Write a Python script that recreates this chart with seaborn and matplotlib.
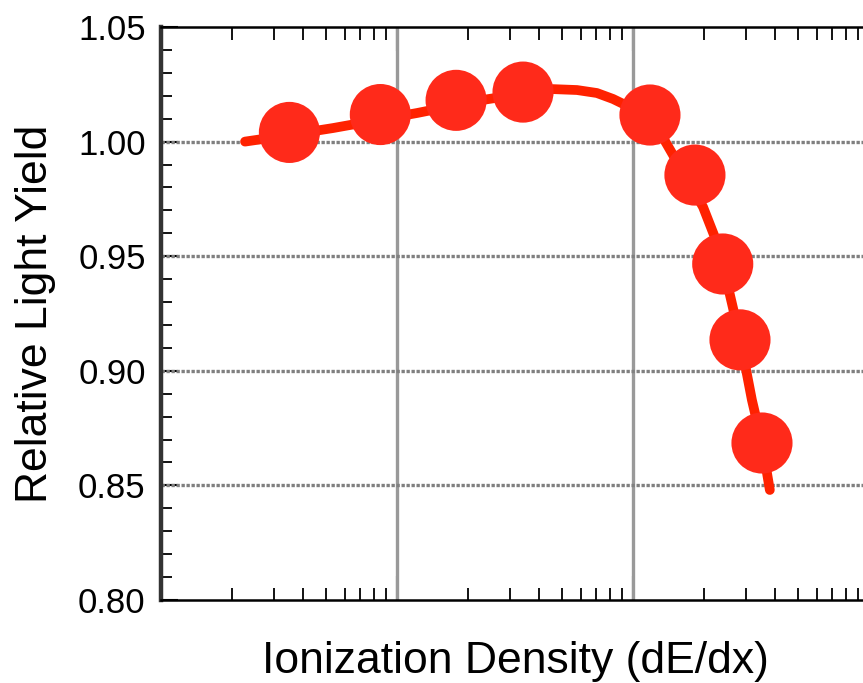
import matplotlib
matplotlib.use("Agg")
import matplotlib.pyplot as plt
from matplotlib.ticker import LogLocator, MultipleLocator, NullFormatter, FormatStrFormatter
import seaborn as sns
import pandas as pd

# Measured light yield vs. ionization density
density = [3.5, 8.5, 17.8, 34.2, 118, 183, 240, 284, 352]
light_yield = [1.004, 1.0118, 1.018, 1.0216, 1.0116, 0.9854, 0.9466, 0.9135, 0.8685]

# Smooth model curve through the measurements
fit_density = [2.27, 2.9, 5.35, 12.2, 22.5, 45.8, 57.9, 70.3, 82.3, 97.1, 118,
               198, 222, 240, 284, 319, 352, 380]
fit_yield = [1.000, 1.0016, 1.0059, 1.0125, 1.018, 1.0229, 1.0225, 1.0212, 1.0186, 1.0150, 1.0116,
             0.9715, 0.9584, 0.9466, 0.9143, 0.8873, 0.8685, 0.848]

y_ticks = [0.80, 0.85, 0.90, 0.95, 1.00, 1.05]

sns.set_style("ticks")
plt.rcParams["font.family"] = ["Liberation Sans", "DejaVu Sans"]
plt.rcParams["text.color"] = "black"
plt.rcParams["axes.labelcolor"] = "black"
plt.rcParams["xtick.color"] = "black"
plt.rcParams["ytick.color"] = "black"

fig = plt.figure(figsize=(8.63, 6.83), dpi=100)
ax = fig.add_axes([161 / 863, 83 / 683, (869 - 161) / 863, 573 / 683])

red = "#ff2a1a"
fit_df = pd.DataFrame({"x": fit_density, "y": fit_yield})
pts_df = pd.DataFrame({"x": density, "y": light_yield})

sns.lineplot(data=fit_df, x="x", y="y", ax=ax, color="#ff2200", linewidth=7,
             sort=False, solid_capstyle="round", solid_joinstyle="round", zorder=3)
sns.scatterplot(data=pts_df, x="x", y="y", ax=ax, color=red, s=44 ** 2,
                edgecolor="none", linewidth=0, zorder=4)

ax.set_xscale("log")
ax.set_xlim(1, 1000)
ax.set_ylim(0.80, 1.05)

# Grid: solid verticals at decades, dotted horizontals at labelled values
for xv in [10, 100]:
    ax.axvline(xv, color="#999999", linewidth=2.4, zorder=1)
for yv in [0.85, 0.90, 0.95, 1.00]:
    ax.axhline(yv, color="#808080", linewidth=2.4, linestyle=(0, (1.0, 0.5)), zorder=1)

ax.xaxis.set_major_locator(LogLocator(base=10, numticks=10))
ax.xaxis.set_minor_locator(LogLocator(base=10, subs=range(2, 10), numticks=20))
ax.xaxis.set_major_formatter(NullFormatter())
ax.xaxis.set_minor_formatter(NullFormatter())
ax.set_yticks(y_ticks)
ax.yaxis.set_major_formatter(FormatStrFormatter("%.2f"))
ax.yaxis.set_minor_locator(MultipleLocator(0.01))

ax.tick_params(axis="both", which="both", direction="in")
ax.tick_params(axis="x", which="both", top=True, bottom=True)
ax.tick_params(axis="x", which="major", length=17, width=1.5)
ax.tick_params(axis="x", which="minor", length=9, width=1.3)
ax.tick_params(axis="y", which="major", length=12, width=1.5, labelsize=25, pad=11)
ax.tick_params(axis="y", which="minor", length=8, width=1.3)

for side in ["top", "bottom"]:
    ax.spines[side].set_linewidth(1.8)
    ax.spines[side].set_color("black")
ax.spines["left"].set_linewidth(3.2)
ax.spines["left"].set_color("#333333")
ax.spines["right"].set_visible(False)

ax.set_xlabel("Ionization Density (dE/dx)", fontsize=32, labelpad=26)
ax.set_ylabel("Relative Light Yield", fontsize=32, labelpad=16)

fig.savefig("out.png", dpi=100)
